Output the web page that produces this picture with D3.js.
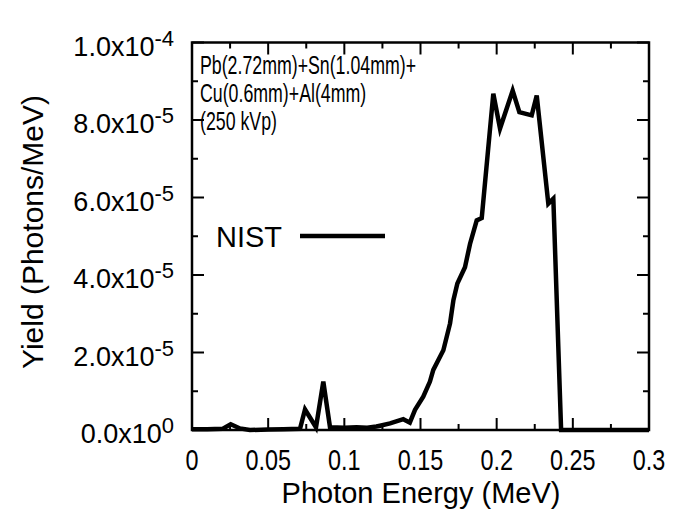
<!DOCTYPE html>
<html>
<head>
<meta charset="utf-8">
<script src="https://cdn.jsdelivr.net/npm/d3@7"></script>
<style>
  html, body { margin: 0; padding: 0; background: #fff; }
  text { font-family: "Liberation Sans", Arial, Helvetica, sans-serif; fill: #000; }
</style>
</head>
<body>
<svg id="chart" width="678" height="509"></svg>
<script>
// ---- data ----
const energy = [0.000, 0.010, 0.020, 0.0254, 0.0315, 0.038, 0.050, 0.060, 0.0709, 0.0742,
  0.0814, 0.0862, 0.0906, 0.100, 0.108, 0.115, 0.121, 0.1234, 0.130, 0.1387,
  0.143, 0.1464, 0.1518, 0.1562, 0.1584, 0.165, 0.1694, 0.1716, 0.1742, 0.1792,
  0.1825, 0.1869, 0.1902, 0.1978, 0.2022, 0.2105, 0.2149, 0.223, 0.2263, 0.2339,
  0.2372, 0.2423, 0.300];
const yieldE5 = [0.02, 0.02, 0.03, 0.15, 0.04, 0.00, 0.01, 0.02, 0.03, 0.53,
  0.07, 1.25, 0.07, 0.06, 0.07, 0.06, 0.09, 0.11, 0.17, 0.28,
  0.19, 0.52, 0.86, 1.25, 1.55, 2.06, 2.75, 3.35, 3.78, 4.20,
  4.80, 5.41, 5.47, 8.68, 7.78, 8.76, 8.20, 8.12, 8.63, 5.84,
  5.97, 0.00, 0.00]; // units of 1e-5 photons/MeV
const xTicks = [0, 0.05, 0.1, 0.15, 0.2, 0.25, 0.3];
const xTickLabels = ["0", "0.05", "0.1", "0.15", "0.2", "0.25", "0.3"];
const yTicks = [0, 2e-5, 4e-5, 6e-5, 8e-5, 1e-4];
const yTickMant = ["0.0x10", "2.0x10", "4.0x10", "6.0x10", "8.0x10", "1.0x10"];
const yTickExp = ["0", "-5", "-5", "-5", "-5", "-4"];
const annotationLines = ["Pb(2.72mm)+Sn(1.04mm)+", "Cu(0.6mm)+Al(4mm)", "(250 kVp)"];
const legendLabel = "NIST";
const xLabel = "Photon Energy (MeV)";
const yLabel = "Yield (Photons/MeV)";

// ---- layout ----
const svg = d3.select("#chart");
const L = 192, R = 649, T = 42.5, B = 430;
const x = d3.scaleLinear().domain([0, 0.3]).range([L, R]);
const y = d3.scaleLinear().domain([0, 1e-4]).range([B, T]);

const pts = energy.map((e, i) => [e, yieldE5[i] * 1e-5]);

// condensed text helper: shrink width via textLength
function condensed(sel, ratio) {
  const n = sel.node();
  const w = n.getComputedTextLength();
  sel.attr("textLength", (w * ratio).toFixed(1)).attr("lengthAdjust", "spacingAndGlyphs");
  return sel;
}

// data line
svg.append("path")
  .datum(pts)
  .attr("fill", "none")
  .attr("stroke", "#000")
  .attr("stroke-width", 4.5)
  .attr("stroke-linejoin", "miter")
  .attr("d", d3.line().x(d => x(d[0])).y(d => y(d[1])));

// ticks (inward, all four sides)
const tk = svg.append("g").attr("stroke", "#000").attr("stroke-width", 2);
const xMinor = d3.range(0, 0.3001, 0.025);
xMinor.forEach((v, i) => {
  const len = i % 2 === 0 ? 12 : 6;
  tk.append("line").attr("x1", x(v)).attr("x2", x(v)).attr("y1", B).attr("y2", B - len);
  tk.append("line").attr("x1", x(v)).attr("x2", x(v)).attr("y1", T).attr("y2", T + len);
});
const yMinor = d3.range(0, 1.0001e-4, 1e-5);
yMinor.forEach((v, i) => {
  const len = i % 2 === 0 ? 12 : 6;
  tk.append("line").attr("x1", L).attr("x2", L + len).attr("y1", y(v)).attr("y2", y(v));
  tk.append("line").attr("x1", R).attr("x2", R - len).attr("y1", y(v)).attr("y2", y(v));
});

// frame
svg.append("rect").attr("x", L).attr("y", T).attr("width", R - L).attr("height", B - T)
  .attr("fill", "none").attr("stroke", "#000").attr("stroke-width", 2.5);

// x tick labels (horizontally condensed)
xTicks.forEach((v, i) => {
  const t = svg.append("text")
    .attr("x", x(v)).attr("y", 469.5)
    .attr("text-anchor", "middle")
    .style("font-size", "30px")
    .text(xTickLabels[i]);
  condensed(t, 0.78);
});

// y tick labels with superscript exponent
yTicks.forEach((v, i) => {
  const t = svg.append("text")
    .attr("x", 174).attr("y", y(v) + 13)
    .attr("text-anchor", "end")
    .style("font-size", "27px");
  t.append("tspan").text(yTickMant[i]);
  t.append("tspan").attr("dy", -10).style("font-size", "22px").text(yTickExp[i]);
});

// axis titles
svg.append("text")
  .attr("x", 421).attr("y", 502.5)
  .attr("text-anchor", "middle")
  .style("font-size", "29px")
  .text(xLabel);
svg.append("text")
  .attr("transform", "translate(43,232) rotate(-90)")
  .attr("text-anchor", "middle")
  .style("font-size", "30px")
  .text(yLabel);

// annotation (condensed)
const annBase = [74, 102, 130];
annotationLines.forEach((s, i) => {
  const t = svg.append("text")
    .attr("x", 200).attr("y", annBase[i])
    .style("font-size", "25px")
    .text(s);
  condensed(t, 0.71);
});

// legend
svg.append("text")
  .attr("x", 216).attr("y", 247)
  .style("font-size", "29px")
  .text(legendLabel);
svg.append("line")
  .attr("x1", 300).attr("x2", 385).attr("y1", 236).attr("y2", 236)
  .attr("stroke", "#000").attr("stroke-width", 4.5);
</script>
</body>
</html>
